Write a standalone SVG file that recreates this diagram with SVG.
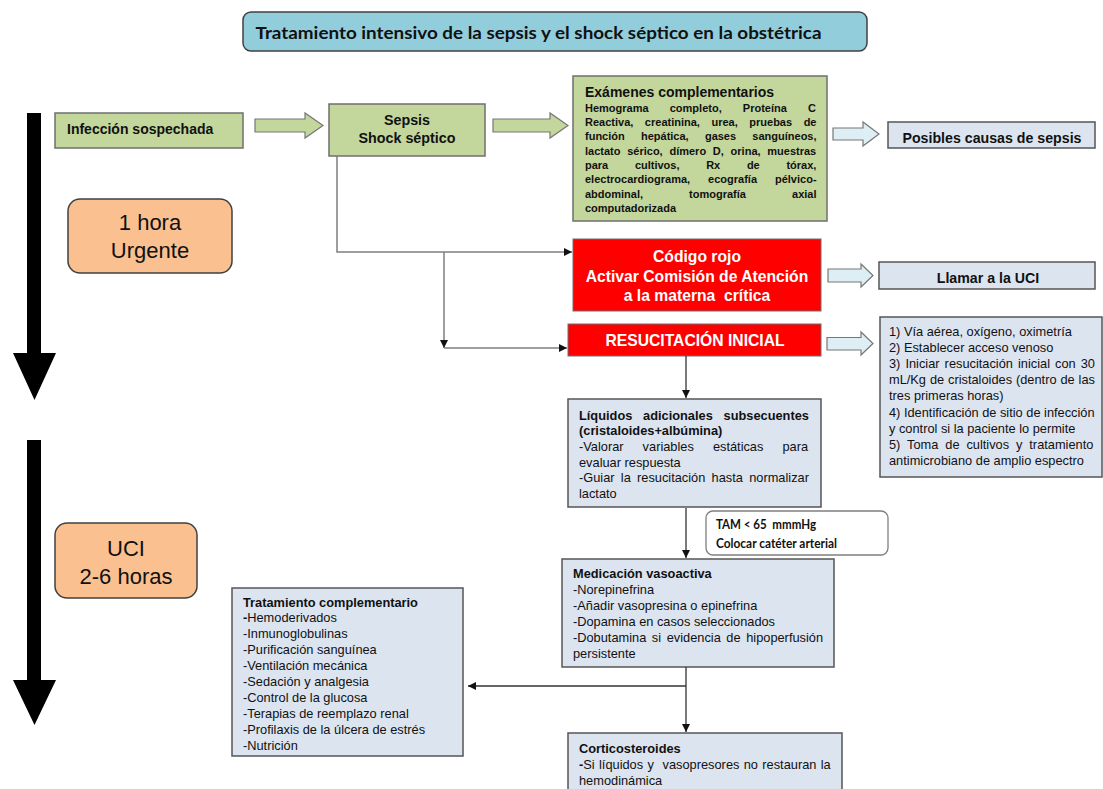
<svg xmlns="http://www.w3.org/2000/svg" width="1103" height="789" viewBox="0 0 1103 789">
<style>
text{font-family:"Liberation Sans",Arial,sans-serif;fill:#111;}
.b{font-weight:bold;}
.c{text-anchor:middle;}
.cal{font-family:Lato,"Open Sans",sans-serif;font-weight:bold;}
.green{fill:#C3D69B;stroke:#6F6F6F;stroke-width:1.5;}
.blue{fill:#DCE4F0;stroke:#555;stroke-width:1.5;}
.red{fill:#FF0000;stroke:#6F6F6F;stroke-width:1;}
.orange{fill:#FAC090;stroke:#404040;stroke-width:1.5;}
.barrow{fill:#DDEEF4;stroke:#777;stroke-width:1.2;}
.garrow{fill:#C3D69B;stroke:#777;stroke-width:1.2;}
.wt{fill:#fff;font-weight:bold;}
.n13{font-size:12.8px;}
.b13{font-size:12.8px;font-weight:bold;}
.b11{font-size:11px;font-weight:bold;}
.ln{fill:none;stroke:#7F7F7F;stroke-width:1.5;}
.lk{fill:none;stroke:#333;stroke-width:1.3;}
</style>
<defs>
<marker id="ah" viewBox="0 0 8 8" refX="8" refY="4" markerWidth="8" markerHeight="8" markerUnits="userSpaceOnUse" orient="auto">
<path d="M0,0 L8,4 L0,8 z" fill="#111"/>
</marker>
</defs>
<rect width="1103" height="789" fill="#fff"/>

<g id="title">
<rect x="243" y="12" width="624" height="39" rx="8" fill="#92CDDC" stroke="#404040" stroke-width="1.5"/>
<text class="cal c" x="538.5" y="38.5" font-size="17.5" textLength="566" lengthAdjust="spacingAndGlyphs">Tratamiento intensivo de la sepsis y el shock séptico en la obstétrica</text>
</g>

<g id="timeline">
<polygon points="27,113 41,113 41,353 56,353 34.5,400 13,353 27,353" fill="#000"/>
<polygon points="27,440 41,440 41,680 56,680 34.5,725 13,680 27,680" fill="#000"/>
</g>

<g id="hora">
<rect x="68" y="199" width="164" height="74" rx="12" class="orange"/>
<text class="c" x="150" y="230" font-size="22">1 hora</text>
<text class="c" x="150" y="258" font-size="22">Urgente</text>
</g>

<g id="uci">
<rect x="55" y="523" width="142" height="75" rx="12" class="orange"/>
<text class="c" x="126" y="556" font-size="22">UCI</text>
<text class="c" x="126" y="584" font-size="22">2-6 horas</text>
</g>

<g id="infeccion">
<rect x="55" y="113" width="188" height="35" class="green"/>
<text class="b" x="67" y="134" font-size="14">Infección sospechada</text>
</g>

<g id="arrow-g1">
<polygon points="255,119 305,119 305,113 323,125.5 305,138 305,132 255,132" class="garrow"/>
</g>

<g id="sepsis">
<rect x="329" y="104" width="156" height="52" class="green"/>
<text class="b c" x="407" y="125" font-size="14.3">Sepsis</text>
<text class="b c" x="407" y="142.5" font-size="14.3">Shock séptico</text>
</g>

<g id="arrow-g2">
<polygon points="493,119 550,119 550,113 568,125.5 550,138 550,132 493,132" class="garrow"/>
</g>

<g id="examenes">
<rect x="573" y="76" width="254" height="145" class="green"/>
<text class="b" x="585" y="97" font-size="14">Exámenes complementarios</text>
<text class="b11" x="585" y="111.5" style="word-spacing:18.1px">Hemograma completo, Proteína C</text>
<text class="b11" x="585" y="125.9" style="word-spacing:8.5px">Reactiva, creatinina, urea, pruebas de</text>
<text class="b11" x="585" y="140.2" style="word-spacing:13.2px">función hepática, gases sanguíneos,</text>
<text class="b11" x="585" y="154.6" style="word-spacing:3.7px">lactato sérico, dímero D, orina, muestras</text>
<text class="b11" x="585" y="168.9" style="word-spacing:23.6px">para cultivos, Rx de tórax,</text>
<text class="b11" x="585" y="183.3" style="word-spacing:14.9px">electrocardiograma, ecografía pélvico-</text>
<text class="b11" x="585" y="197.6" style="word-spacing:43px">abdominal, tomografía axial</text>
<text class="b11" x="585" y="212">computadorizada</text>
</g>

<g id="arrow-b1">
<polygon points="833,128 863,128 863,122 879,134 863,146 863,140 833,140" class="barrow"/>
</g>

<g id="posibles">
<rect x="888" y="122" width="207" height="26" class="blue"/>
<text class="b c" x="992" y="142.7" font-size="14.2">Posibles causas de sepsis</text>
</g>

<g id="codigo">
<rect x="573" y="239" width="248" height="72" class="red"/>
<text class="wt c" x="697" y="262" font-size="15.7">Código rojo</text>
<text class="wt c" x="697" y="281.5" font-size="15.7">Activar Comisión de Atención</text>
<text class="wt c" x="697" y="300.5" font-size="15.7" xml:space="preserve">a la materna  crítica</text>
</g>

<g id="arrow-b2">
<polygon points="828,269 861,269 861,264 873,275.5 861,287 861,282 828,282" class="barrow"/>
</g>

<g id="llamar">
<rect x="879" y="262" width="216" height="27" class="blue"/>
<text class="b c" x="988" y="283.3" font-size="14.2">Llamar a la UCI</text>
</g>

<g id="resucitacion">
<rect x="568" y="324" width="253" height="32" class="red"/>
<text class="wt c" x="695" y="345.5" font-size="15.7">RESUCITACIÓN INICIAL</text>
</g>

<g id="arrow-b3">
<polygon points="827,337.5 861,337.5 861,332 873,343.5 861,355 861,350 827,350" class="barrow"/>
</g>

<g id="pasos">
<rect x="880" y="317" width="222" height="160" class="blue"/>
<text class="n13" x="889" y="336">1) Vía aérea, oxígeno, oximetría</text>
<text class="n13" x="889" y="352.1">2) Establecer acceso venoso</text>
<text class="n13" x="889" y="368.2" style="word-spacing:1.5px">3) Iniciar resucitación inicial con 30</text>
<text class="n13" x="889" y="384.3" style="word-spacing:0.36px">mL/Kg de cristaloides (dentro de las</text>
<text class="n13" x="889" y="400.4">tres primeras horas)</text>
<text class="n13" x="889" y="416.5">4) Identificación de sitio de infección</text>
<text class="n13" x="889" y="432.6">y control si la paciente lo permite</text>
<text class="n13" x="889" y="448.7" style="word-spacing:3.36px">5) Toma de cultivos y tratamiento</text>
<text class="n13" x="889" y="464.8">antimicrobiano de amplio espectro</text>
</g>

<g id="liquidos">
<rect x="568" y="399" width="253" height="108" class="blue"/>
<text class="b13" x="579" y="419.5" style="word-spacing:7.2px">Líquidos adicionales subsecuentes</text>
<text class="b13" x="579" y="435">(cristaloides+albúmina)</text>
<text class="n13" x="579" y="451" style="word-spacing:15.5px">-Valorar variables estáticas para</text>
<text class="n13" x="579" y="466.5">evaluar respuesta</text>
<text class="n13" x="579" y="482" style="word-spacing:2.72px">-Guiar la resucitación hasta normalizar</text>
<text class="n13" x="579" y="497.5">lactato</text>
</g>

<g id="tam">
<rect x="706" y="511" width="182" height="44" rx="7" fill="#fff" stroke="#7F7F7F" stroke-width="1.3"/>
<text class="cal" x="716" y="529" font-size="13" textLength="100" lengthAdjust="spacingAndGlyphs" xml:space="preserve">TAM &lt; 65  mmmHg</text>
<text class="cal" x="716" y="547.5" font-size="13" textLength="121" lengthAdjust="spacingAndGlyphs">Colocar catéter arterial</text>
</g>

<g id="medicacion">
<rect x="562" y="559" width="272" height="108" class="blue"/>
<text class="b13" x="573" y="578">Medicación vasoactiva</text>
<text class="n13" x="573" y="594">-Norepinefrina</text>
<text class="n13" x="573" y="610">-Añadir vasopresina o epinefrina</text>
<text class="n13" x="573" y="626">-Dopamina en casos seleccionados</text>
<text class="n13" x="573" y="642" style="word-spacing:2.04px">-Dobutamina si evidencia de hipoperfusión</text>
<text class="n13" x="573" y="658">persistente</text>
</g>

<g id="complementario">
<rect x="232" y="588" width="231" height="168" class="blue"/>
<text class="b13" x="243" y="606.5">Tratamiento complementario</text>
<text class="n13" x="243" y="622.4"><tspan font-weight="bold">-</tspan>Hemoderivados</text>
<text class="n13" x="243" y="638.3">-Inmunoglobulinas</text>
<text class="n13" x="243" y="654.2">-Purificación sanguínea</text>
<text class="n13" x="243" y="670.1">-Ventilación mecánica</text>
<text class="n13" x="243" y="686">-Sedación y analgesia</text>
<text class="n13" x="243" y="701.9">-Control de la glucosa</text>
<text class="n13" x="243" y="717.8">-Terapias de reemplazo renal</text>
<text class="n13" x="243" y="733.7">-Profilaxis de la úlcera de estrés</text>
<text class="n13" x="243" y="749.6">-Nutrición</text>
</g>

<g id="corticosteroides">
<rect x="568" y="733" width="274" height="70" class="blue"/>
<text class="b13" x="579" y="752.5">Corticosteroides</text>
<text class="n13" x="579" y="769" style="word-spacing:0.8px" xml:space="preserve"><tspan font-weight="bold">-</tspan>Si líquidos y  vasopresores no restauran la</text>
<text class="n13" x="579" y="785">hemodinámica</text>
</g>

<g id="connectors">
<path class="ln" d="M337,156 V252 H572" marker-end="url(#ah)"/>
<path class="ln" d="M444,252 V348" marker-end="url(#ah)"/>
<path class="ln" d="M444,348 H567" marker-end="url(#ah)"/>
<path class="lk" d="M686,356 V398" marker-end="url(#ah)"/>
<path class="lk" d="M686,508 V558" marker-end="url(#ah)"/>
<path class="lk" d="M686,667 V732" marker-end="url(#ah)"/>
<path class="lk" d="M686,686 H468" marker-end="url(#ah)"/>
</g>
</svg>
